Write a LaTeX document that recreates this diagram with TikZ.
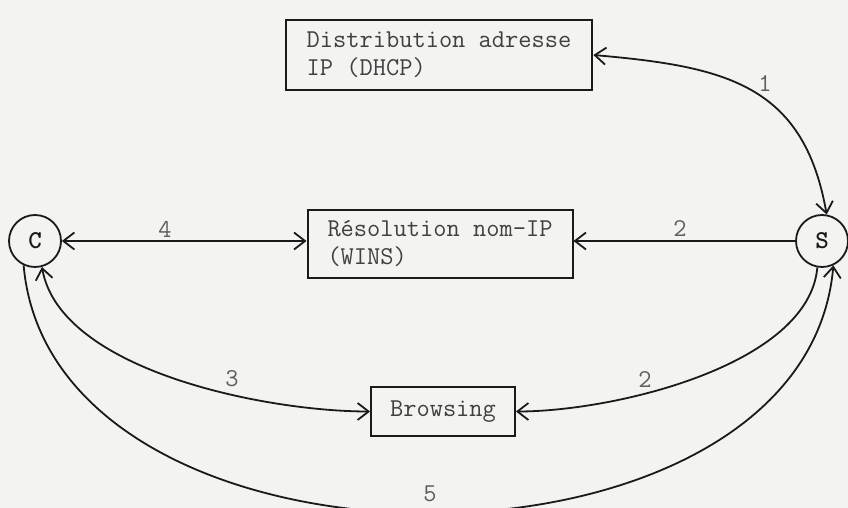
\documentclass[tikz,border=0pt]{standalone}
\usepackage{fontspec}
\usetikzlibrary{arrows.meta}
\definecolor{paper}{HTML}{F3F3F1}
\definecolor{ink}{HTML}{1A1A1A}
\definecolor{txt}{HTML}{404040}
\definecolor{num}{HTML}{5E5E5E}
\begin{document}
\begin{tikzpicture}[x=1pt,y=1pt,
  font=\ttfamily\fontsize{25.7}{28}\selectfont,
  service/.style={draw=ink,line width=2pt,text=txt,align=left,inner ysep=0pt},
  host/.style={circle,draw=ink,line width=1.8pt,minimum size=52pt,inner sep=0pt,
    text=ink,font=\ttfamily\bfseries\fontsize{25.7}{28}\selectfont},
  link/.style={draw=ink,line width=1.8pt},
  tip/.tip={Straight Barb[length=11pt,width=17pt,line width=1.8pt]},
  lbl/.style={text=num,inner sep=0pt}]
% page frame
\fill[paper] (0,0) rectangle (848,508);
\useasboundingbox (0,0) rectangle (848,508);

% services
\node[service,inner xsep=21pt,minimum height=70pt] (dhcp) at (439,453)
  {Distribution adresse\\IP (DHCP)};
\node[service,inner xsep=20pt,minimum height=68pt] (wins) at (440,264)
  {Résolution nom-IP\\(WINS)};
\node[service,inner xsep=19pt,minimum height=49pt] (brow) at (443,96.5)
  {Browsing};

% client and server
\node[host] (C) at (35,267) {C};
\node[host] (S) at (822,267) {S};

% connectors
\draw[link,{tip}-{tip}] (dhcp.east) to[out=-5,in=100,looseness=1.2] (S.80);
\draw[link,{tip}-{tip}] (C.east) -- (C.east -| wins.west);
\draw[link,-{tip}] (S.west) -- (S.west -| wins.east);
\draw[link,{tip}-{tip}] (C.-75) to[out=-80,in=180,looseness=0.75] (brow.west);
\draw[link,-{tip}] (S.-100) to[out=-95,in=0,looseness=0.75] (brow.east);
\draw[link,-{tip}] (C.-115) to[out=-85,in=-95,looseness=1.05] (S.-65);

% step numbers
\node[lbl] (n1) at (765,424) {1};
\node[lbl] (n4) at (165,279) {4};
\node[lbl] (n2a) at (680,279) {2};
\node[lbl] (n3) at (232,129) {3};
\node[lbl] (n2b) at (645,129) {2};
\node[lbl] (n5) at (430,14) {5};
\end{tikzpicture}
\end{document}
